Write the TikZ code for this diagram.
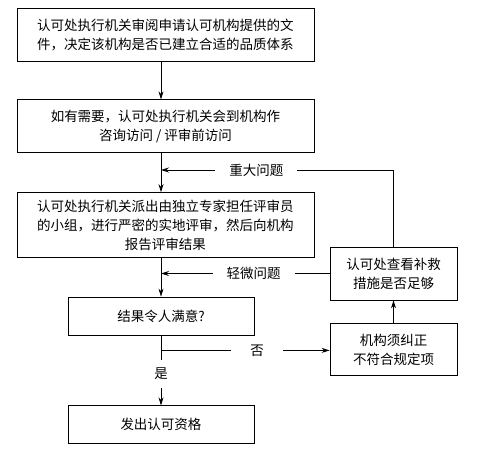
\documentclass[tikz,border=0pt]{standalone}
\usepackage{fontspec}
\setmainfont{Noto Sans CJK SC}
\usetikzlibrary{arrows.meta,positioning,calc}

\begin{document}
\begin{tikzpicture}[
    x=1pt, y=1pt,
    font=\fontsize{13.5}{19}\selectfont,
    box/.style={rectangle, draw, line width=0.8pt, align=center, inner sep=0pt},
    wide/.style={box, minimum width=297pt},
    narrow/.style={box, minimum width=186pt, minimum height=38pt},
    side/.style={box, minimum width=127pt, minimum height=53pt},
    arrow/.style={-{Stealth[length=8pt,width=5pt]}, line width=0.8pt},
    line/.style={line width=0.8pt},
    gap/.style={fill=white, inner xsep=14pt, inner ysep=1pt}
]
    \useasboundingbox (0,0) rectangle (483,-451);

    % Document review
    \node[wide, minimum height=53pt] (review) at (165.5,-34.5) {认可处执行机关审阅申请认可机构提供的文\\件，决定该机构是否已建立合适的品质体系};

    % Pre-visit
    \node[wide, minimum height=53pt, below=38pt of review] (visit) {如有需要，认可处执行机关会到机构作\\咨询访问 / 评审前访问};

    % On-site assessment
    \node[wide, minimum height=65pt, below=39pt of visit] (assess) {认可处执行机关派出由独立专家担任评审员\\的小组，进行严密的实地评审，然后向机构\\报告评审结果};

    % Decision
    \node[narrow] (ok) at (161,-316) {结果令人满意?};

    % Accreditation
    \node[narrow, below=70pt of ok] (grant) {发出认可资格};

    % Corrective actions
    \node[side] (check) at (393.5,-273.5) {认可处查看补救\\措施是否足够};
    \node[side, minimum height=52pt, below=23pt of check] (fix) {机构须纠正\\不符合规定项};

    % Main flow
    \draw[arrow] (review.south -| ok.north) -- (visit.north -| ok.north);
    \draw[arrow] (visit.south -| ok.north) -- (assess.north -| ok.north);
    \draw[arrow] (assess.south -| ok.north) -- (ok.north);
    \draw[arrow] (ok.south) -- (grant.north) node[pos=0.55, gap, inner xsep=1pt, inner ysep=8pt] {是};

    % No branch
    \coordinate (nojoin) at ($(ok.south)+(0,-15)$);
    \draw[arrow] (nojoin) -- (nojoin -| fix.west) node[pos=0.57, gap, inner xsep=19pt] {否};
    \draw[arrow] (fix.north) -- (check.south);

    % Feedback loops
    \coordinate (major) at (check.north |- 0,-170);
    \draw[line] (check.north) -- (major);
    \draw[arrow] (major) -- (major -| ok.north) node[pos=0.59, gap] {重大问题};
    \draw[arrow] (check.west) -- (check.west -| ok.north) node[pos=0.45, gap] {轻微问题};

\end{tikzpicture}
\end{document}
